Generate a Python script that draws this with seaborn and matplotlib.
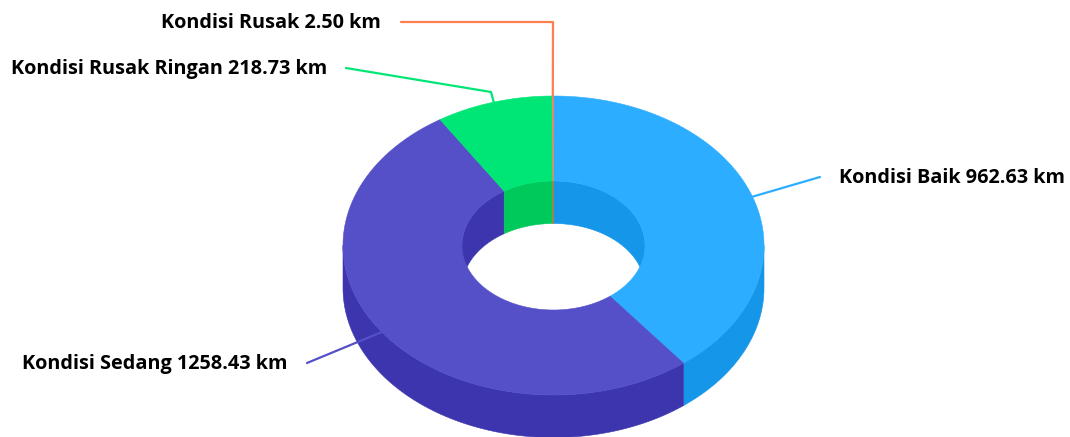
import numpy as np
import matplotlib
matplotlib.use("Agg")
import matplotlib.pyplot as plt
import seaborn as sns

# data
categories = ["Kondisi Baik", "Kondisi Sedang", "Kondisi Rusak Ringan", "Kondisi Rusak"]
lengths_km = [962.63, 1258.43, 218.73, 2.50]
top_colors = ["#2DADFF", "#5550C8", "#00E676", "#FF7F50"]
wall_colors = ["#1596E8", "#3C35AE", "#00C95C", "#D9683F"]

# label placement: end of the leader line, optional elbow, text anchor
label_ends = [(820, 177), (307, 363), (346, 68), (401, 22)]
label_elbows = [None, None, (491, 92), (553, 22)]
label_x = [839, 288, 327, 381]
label_align = ["left", "right", "right", "right"]

# ring geometry in pixels
CX, CY = 553.5, 245.5
RX_OUT, RY_OUT = 210.5, 149.5
RX_IN, RY_IN = 91.5, 64.5
DEPTH = 42.5

sns.set_theme(style="white")
plt.rcParams["font.family"] = ["Open Sans", "DejaVu Sans"]


def ellipse_pts(start, end, rx, ry, dy=0.0):
    """angles are degrees clockwise from the top of the ring"""
    t = np.radians(np.linspace(start, end, max(int(abs(end - start)) * 2, 2)))
    return CX + rx * np.sin(t), CY - ry * np.cos(t) + dy


def clipped(start, end, lo, hi):
    a, b = max(start, lo), min(end, hi)
    return (a, b) if b > a else None


def draw_wall(ax, span, rx, ry, color, zorder):
    x1, y1 = ellipse_pts(span[0], span[1], rx, ry)
    x2, y2 = ellipse_pts(span[0], span[1], rx, ry, DEPTH)
    ax.fill(np.r_[x1, x2[::-1]], np.r_[y1, y2[::-1]],
            color=color, lw=0.4, zorder=zorder)


fig = plt.figure(figsize=(10.7, 4.37), dpi=100)
ax = fig.add_axes([0, 0, 1, 1])
ax.set_xlim(0, 1070)
ax.set_ylim(437, 0)
ax.axis("off")

sweeps = np.array(lengths_km) / sum(lengths_km) * 360
stops = np.cumsum(sweeps)
starts = stops - sweeps

for i, name in enumerate(categories):
    # front of the outer wall
    span = clipped(starts[i], stops[i], 90, 270)
    if span:
        draw_wall(ax, span, RX_OUT, RY_OUT, wall_colors[i], 1)

    # back of the hole
    for lo, hi in [(0, 90), (270, 360)]:
        span = clipped(starts[i], stops[i], lo, hi)
        if span:
            draw_wall(ax, span, RX_IN, RY_IN, wall_colors[i], 1)

    # leader line starts on the rim at the middle of the slice
    mid = np.radians(starts[i] + sweeps[i] / 2)
    px = [CX + RX_OUT * np.sin(mid)]
    py = [CY - RY_OUT * np.cos(mid)]
    if label_elbows[i]:
        px.append(label_elbows[i][0])
        py.append(label_elbows[i][1])
    px.append(label_ends[i][0])
    py.append(label_ends[i][1])
    sns.lineplot(x=px, y=py, sort=False, estimator=None, color=top_colors[i],
                 linewidth=1.6, ax=ax, zorder=2)

    # top face
    xo, yo = ellipse_pts(starts[i], stops[i], RX_OUT, RY_OUT)
    xi, yi = ellipse_pts(starts[i], stops[i], RX_IN, RY_IN)
    ax.fill(np.r_[xo, xi[::-1]], np.r_[yo, yi[::-1]],
            color=top_colors[i], lw=0.4, zorder=3)

    ax.text(label_x[i], label_ends[i][1] + 0.8, f"{name} {lengths_km[i]:.2f} km",
            ha=label_align[i], va="center", fontsize=14.35, fontweight="bold",
            color="#000000", zorder=4)

ax.set_xlim(0, 1070)
ax.set_ylim(437, 0)
fig.savefig("out.png", dpi=100, facecolor="white")
